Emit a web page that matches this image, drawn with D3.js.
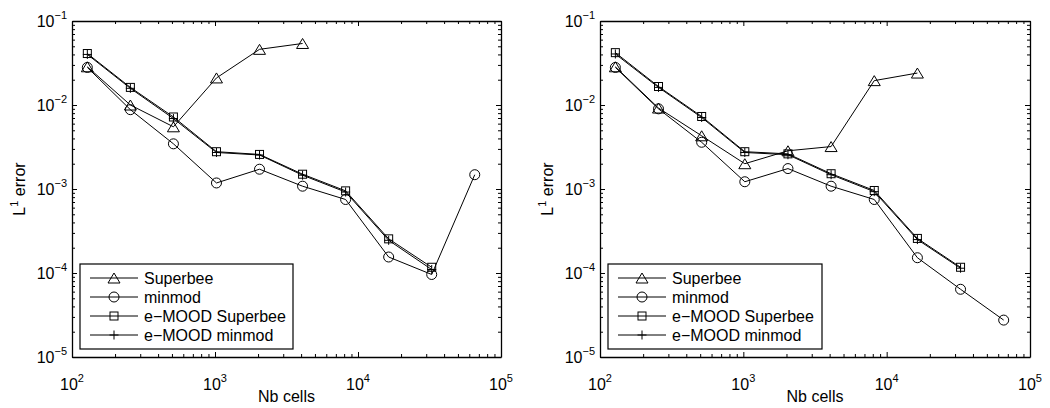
<!DOCTYPE html>
<html>
<head>
<meta charset="utf-8">
<script src="https://cdn.jsdelivr.net/npm/d3@7"></script>
<style>
  body { margin: 0; background: #fff; }
  svg { font-family: "Liberation Sans", Arial, Helvetica, sans-serif; }
  .axis path, .axis line { stroke: #000; }
  .axis path { stroke-width: 1.3; }
</style>
</head>
<body>
<div id="chart"></div>
<script>
/* L1 error vs number of cells, two log-log panels */

const width = 1050, height = 408;

const cells = [128, 256, 512, 1024, 2048, 4096, 8192, 16384, 32768, 65536];
const xTicks = [1e2, 1e3, 1e4, 1e5];
const yTicks = [1e-5, 1e-4, 1e-3, 1e-2, 1e-1];
const seriesNames = ["Superbee", "minmod", "e\u2212MOOD Superbee", "e\u2212MOOD minmod"];

// left panel
const superbeeL = [0.0285, 0.0100, 0.0055, 0.0210, 0.0460, 0.0540];
const minmodL = [0.0280, 0.0088, 0.00345, 0.00118, 0.00172, 0.00108, 0.00075, 0.000155, 0.0000960, 0.00148];
const emoodSbL = [0.0410, 0.0162, 0.0072, 0.00278, 0.00258, 0.00150, 0.00095, 0.000255, 0.000117];
const emoodMmL = [0.0400, 0.0158, 0.0069, 0.00272, 0.00254, 0.00146, 0.00092, 0.000245, 0.000110];

// right panel
const superbeeR = [0.0285, 0.0092, 0.0043, 0.00200, 0.00285, 0.00320, 0.0195, 0.0240];
const minmodR = [0.0280, 0.0090, 0.00360, 0.00122, 0.00175, 0.00108, 0.00075, 0.000152, 0.0000640, 0.0000275];
const emoodSbR = [0.0420, 0.0166, 0.0073, 0.00278, 0.00262, 0.00152, 0.00096, 0.000258, 0.000117];
const emoodMmR = [0.0405, 0.0162, 0.0071, 0.00272, 0.00256, 0.00148, 0.00093, 0.000250, 0.000114];

const panels = [
    { left: 72, right: 501, series: [superbeeL, minmodL, emoodSbL, emoodMmL], legend: { x: 80, w: 213 } },
    { left: 600, right: 1030, series: [superbeeR, minmodR, emoodSbR, emoodMmR], legend: { x: 608, w: 214 } }
];
const plotTop = 21, plotBottom = 357;
const markers = ["triangle", "circle", "square", "plus"];

const svg = d3.select("#chart")
    .append("svg")
    .attr("width", width)
    .attr("height", height);

function minorTicks(lo, hi) {
    let out = [];
    for (let p = lo; p < hi; p *= 10)
        for (let k = 1; k < 10; k++) out.push(p * k);
    out.push(hi);
    return out;
}
const isMajor = v => Math.abs(Math.log10(v) - Math.round(Math.log10(v))) < 1e-9;

function drawMarker(g, type, cx, cy) {
    if (type === "circle") {
        g.append("circle").attr("cx", cx).attr("cy", cy).attr("r", 5);
    } else if (type === "triangle") {
        g.append("path").attr("d", `M${cx},${cy - 5}L${cx + 6},${cy + 5}L${cx - 6},${cy + 5}Z`);
    } else if (type === "square") {
        g.append("rect").attr("x", cx - 4).attr("y", cy - 4).attr("width", 8).attr("height", 8);
    } else {
        g.append("path").attr("d", `M${cx - 4.5},${cy}H${cx + 4.5}M${cx},${cy - 4.5}V${cy + 4.5}`);
    }
}

function sup(text, base, exp) {
    text.append("tspan").text(base);
    text.append("tspan").attr("dy", -8).attr("font-size", 11).text(exp);
}

panels.forEach(p => {
    let x = d3.scaleLog().domain([1e2, 1e5]).range([p.left, p.right]);
    let y = d3.scaleLog().domain([1e-5, 1e-1]).range([plotBottom, plotTop]);
    let g = svg.append("g");

    let xt = minorTicks(1e2, 1e5), yt = minorTicks(1e-5, 1e-1);

    // box axes with inward ticks on all four sides
    const fixTicks = (sel, attr, sign) => sel.selectAll(".tick line")
        .attr(attr, d => sign * (isMajor(d) ? 5 : 3));

    g.append("g").attr("class", "axis").attr("transform", `translate(0,${plotBottom})`)
        .call(d3.axisBottom(x).tickValues(xt).tickFormat("").tickSizeOuter(0))
        .call(s => fixTicks(s, "y2", -1));
    g.append("g").attr("class", "axis").attr("transform", `translate(0,${plotTop})`)
        .call(d3.axisTop(x).tickValues(xt).tickFormat("").tickSizeOuter(0))
        .call(s => fixTicks(s, "y2", 1));
    g.append("g").attr("class", "axis").attr("transform", `translate(${p.left},0)`)
        .call(d3.axisLeft(y).tickValues(yt).tickFormat("").tickSizeOuter(0))
        .call(s => fixTicks(s, "x2", 1));
    g.append("g").attr("class", "axis").attr("transform", `translate(${p.right},0)`)
        .call(d3.axisRight(y).tickValues(yt).tickFormat("").tickSizeOuter(0))
        .call(s => fixTicks(s, "x2", -1));
    g.selectAll(".axis text").remove();

    // tick labels with superscripts
    xTicks.forEach(v => {
        let t = g.append("text").attr("x", x(v)).attr("y", plotBottom + 33)
            .attr("text-anchor", "middle").attr("font-size", 16);
        sup(t, "10", Math.round(Math.log10(v)));
    });
    yTicks.forEach(v => {
        let t = g.append("text").attr("x", p.left - 5).attr("y", y(v) + 6)
            .attr("text-anchor", "end").attr("font-size", 16);
        sup(t, "10", "\u2212" + Math.abs(Math.round(Math.log10(v))));
    });

    g.append("text")
        .attr("x", (p.left + p.right) / 2).attr("y", height - 6)
        .attr("text-anchor", "middle").attr("font-size", 16)
        .text("Nb cells");

    let yl = g.append("text")
        .attr("transform", `translate(${p.left - 47},${(plotTop + plotBottom) / 2}) rotate(-90)`)
        .attr("text-anchor", "middle").attr("font-size", 16);
    yl.append("tspan").text("L");
    yl.append("tspan").attr("dy", -7).attr("font-size", 11).text("1");
    yl.append("tspan").attr("dy", 7).text(" error");

    // data
    let line = d3.line().x((d, i) => x(cells[i])).y(d => y(d));
    p.series.forEach((vals, k) => {
        g.append("path")
            .datum(vals)
            .attr("d", line)
            .attr("fill", "none")
            .attr("stroke", "#000")
            .attr("stroke-width", 1);
        let mg = g.append("g").attr("fill", "none").attr("stroke", "#000").attr("stroke-width", 1);
        vals.forEach((v, i) => drawMarker(mg, markers[k], x(cells[i]), y(v)));
    });

    // legend
    let lg = g.append("g");
    lg.append("rect")
        .attr("x", p.legend.x).attr("y", 264)
        .attr("width", p.legend.w).attr("height", 85)
        .attr("fill", "#fff").attr("stroke", "#000").attr("stroke-width", 1.2);
    seriesNames.forEach((name, k) => {
        let cy = 278 + k * 19;
        let x0 = p.legend.x + 10;
        lg.append("line").attr("x1", x0).attr("x2", x0 + 48)
            .attr("y1", cy).attr("y2", cy).attr("stroke", "#000");
        let mg = lg.append("g").attr("fill", "none").attr("stroke", "#000");
        drawMarker(mg, markers[k], x0 + 24, cy);
        lg.append("text").attr("x", x0 + 54).attr("y", cy + 6)
            .attr("font-size", 16).text(name);
    });
});
</script>
</body>
</html>
